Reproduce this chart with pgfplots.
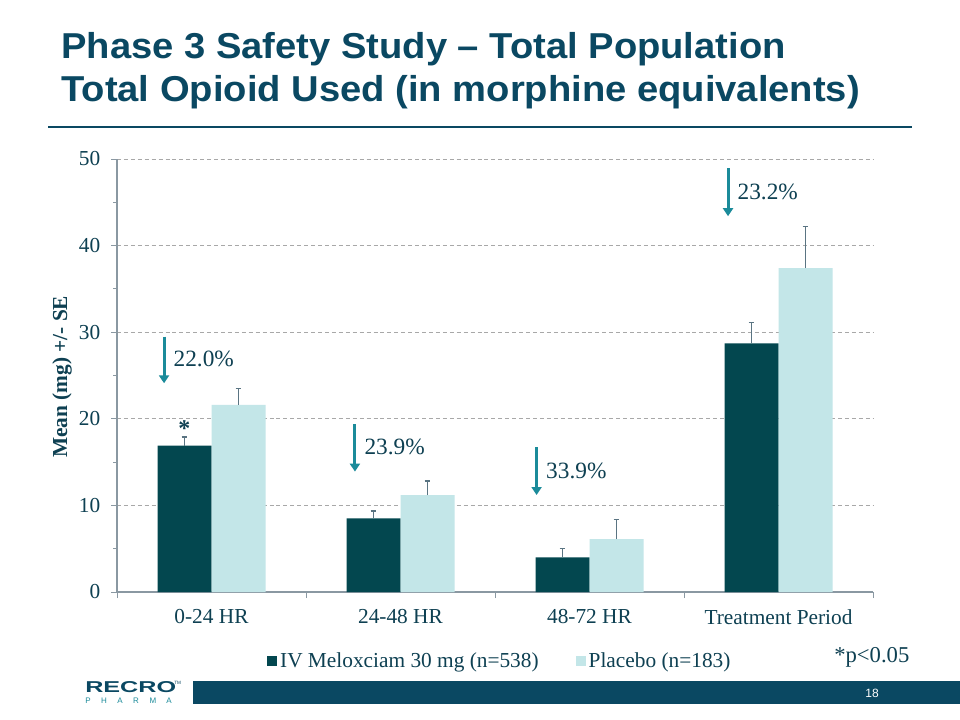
\documentclass[border=0pt]{standalone}
\usepackage{fontspec}
\setmainfont{Liberation Serif}
\newfontfamily\titlefont[FakeStretch=1.06]{Liberation Sans}
\newfontfamily\sansfont{Liberation Sans}
\usepackage{pgfplots}
\pgfplotsset{compat=1.18}
\usetikzlibrary{arrows.meta}
\definecolor{titleblue}{HTML}{0A4862}
\definecolor{darkbar}{HTML}{03474F}
\definecolor{lightbar}{HTML}{C3E6E8}
\definecolor{txt}{HTML}{0E4052}
\definecolor{arrowc}{HTML}{1B8B9A}
\definecolor{axisgray}{HTML}{8A98A2}
\definecolor{gridgray}{HTML}{A8A8A8}
\definecolor{errc}{HTML}{5A7482}
\begin{document}
\begin{tikzpicture}
\begin{scope}[x=0.75pt,y=-0.75pt]
\fill[white] (0,0) rectangle (960,720);
\node[anchor=base west, inner sep=0, text=titleblue, font=\titlefont\bfseries\fontsize{27}{32}\selectfont] at (61,59) {Phase 3 Safety Study – Total Population};
\node[anchor=base west, inner sep=0, text=titleblue, font=\titlefont\bfseries\fontsize{27}{32}\selectfont] at (61,102) {Total Opioid Used (in morphine equivalents)};
\draw[titleblue, line width=1.5pt] (48,127.5) -- (912,127.5);
% footer
\fill[titleblue] (193,681) rectangle (960,704);
\node[text=white, font=\sansfont\fontsize{9}{10}\selectfont, inner sep=0] at (872,693) {18};
\node[anchor=base west, inner sep=0, text=titleblue, font=\sansfont\bfseries\fontsize{11.8}{12}\selectfont] at (85,692.5) {\scalebox{1.6}[1]{RECRO}};
\node[anchor=base west, inner sep=0, text=titleblue, font=\sansfont\fontsize{3.5}{4}\selectfont] at (174,684) {TM};
\foreach \x/\l in {88/P,104/H,120/A,136/R,153/M,169/A}
  \node[anchor=base, inner sep=0, text=arrowc, font=\sansfont\fontsize{6}{7}\selectfont] at (\x,703) {\l};
\node[anchor=base west, inner sep=0, text=txt, font=\fontsize{17}{20}\selectfont] at (834,662) {*p<0.05};
\end{scope}
\begin{axis}[
  at={(87.75pt,-444pt)}, anchor=south west,
  width=567pt, height=324.75pt, scale only axis,
  xmin=-0.5, xmax=3.5, ymin=0, ymax=50,
  axis lines*=left,
  axis line style={axisgray, line width=0.8pt},
  xtick={-0.5,0.5,1.5,2.5,3.5}, xticklabels={},
  extra x ticks={0,1,2,3},
  extra x tick labels={0-24 HR,24-48 HR,48-72 HR,Treatment Period},
  extra x tick style={major tick length=0pt, grid=none},
  ytick={0,10,20,30,40,50}, minor y tick num=1,
  tick align=outside, major tick length=4.5pt, minor tick length=3pt,
  tick style={axisgray, line width=0.75pt},
  ymajorgrids, grid style={gridgray, line width=0.7pt, dash pattern=on 3pt off 2.2pt},
  ticklabel style={text=txt, font=\fontsize{16}{18}\selectfont},
  /pgf/number format/assume math mode=true,
  xticklabel style={yshift=-9.5pt},
  yticklabel style={xshift=-4.5pt},
  ylabel={Mean (mg) +/- SE},
  every axis y label/.style={at={(axis description cs:-0.0728,0.497)}, rotate=90, anchor=center, text=txt, font=\bfseries\fontsize{16}{18}\selectfont},
  legend columns=2,
  legend style={at={(0.507,-0.159)}, anchor=center, draw=none, fill=none, text=txt,
    font=\fontsize{16}{18}\selectfont, /tikz/every even column/.append style={column sep=26pt}},
  clip=false,
]
\addplot[ybar, fill=darkbar, draw=none, bar width=40.5pt, bar shift=0pt,
  legend image code/.code={\fill[darkbar] (0pt,-3.9pt) rectangle (7.5pt,3.6pt);},
  error bars/.cd, y dir=plus, y explicit,
  error bar style={errc, line width=1pt},
  error mark options={rotate=90, errc, mark size=2.2pt, line width=1pt}]
  coordinates {(-0.142857,16.9) +- (0,1.0) (0.857143,8.5) +- (0,0.85) (1.857143,4.0) +- (0,1.05) (2.857143,28.7) +- (0,2.4)};
\addlegendentry{IV Meloxciam 30 mg (n=538)}
\addplot[ybar, fill=lightbar, draw=none, bar width=40.5pt, bar shift=0pt,
  legend image code/.code={\fill[lightbar] (0pt,-3.9pt) rectangle (7.5pt,3.6pt);},
  error bars/.cd, y dir=plus, y explicit,
  error bar style={errc, line width=1pt},
  error mark options={rotate=90, errc, mark size=2.2pt, line width=1pt}]
  coordinates {(0.142857,21.6) +- (0,1.9) (1.142857,11.2) +- (0,1.6) (2.142857,6.1) +- (0,2.3) (3.142857,37.4) +- (0,4.8)};
\addlegendentry{Placebo (n=183)}
% reduction arrows
\draw[arrowc, line width=2.2pt, -{Triangle[width=7.5pt,length=6pt]}] (axis cs:-0.251,29.5) -- (axis cs:-0.251,24.1);
\draw[arrowc, line width=2.2pt, -{Triangle[width=7.5pt,length=6pt]}] (axis cs:0.759,19.4) -- (axis cs:0.759,13.9);
\draw[arrowc, line width=2.2pt, -{Triangle[width=7.5pt,length=6pt]}] (axis cs:1.72,16.74) -- (axis cs:1.72,11.2);
\draw[arrowc, line width=2.2pt, -{Triangle[width=7.5pt,length=6pt]}] (axis cs:2.733,48.96) -- (axis cs:2.733,43.4);
\node[anchor=west, inner sep=0, xshift=7pt, text=txt, font=\fontsize{17.5}{20}\selectfont] at (axis cs:-0.251,26.9) {22.0\%};
\node[anchor=west, inner sep=0, xshift=7pt, text=txt, font=\fontsize{17.5}{20}\selectfont] at (axis cs:0.759,16.75) {23.9\%};
\node[anchor=west, inner sep=0, xshift=7pt, text=txt, font=\fontsize{17.5}{20}\selectfont] at (axis cs:1.72,13.95) {33.9\%};
\node[anchor=west, inner sep=0, xshift=7pt, text=txt, font=\fontsize{17.5}{20}\selectfont] at (axis cs:2.733,46.2) {23.2\%};
\node[anchor=base, inner sep=0, text=txt, font=\bfseries\fontsize{18}{20}\selectfont] at (axis cs:-0.143,18.0) {*};
\end{axis}
\pgfresetboundingbox
\path[use as bounding box] (0,0) rectangle (720pt,-540pt);
\end{tikzpicture}
\end{document}
